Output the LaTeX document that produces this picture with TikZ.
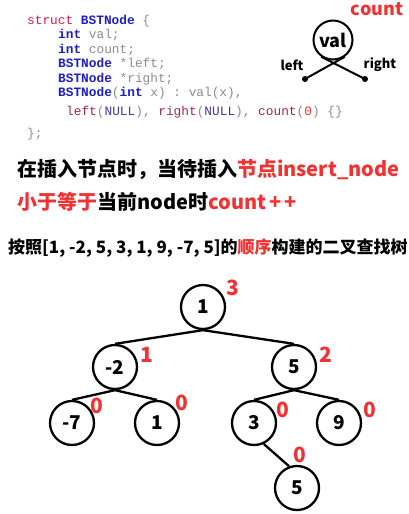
\documentclass[tikz,border=0pt]{standalone}
\usepackage{fontspec}
\setmonofont{Liberation Mono}
\newfontfamily\cjk{Noto Sans CJK SC}
\definecolor{kwstruct}{RGB}{220,20,80}
\definecolor{kwblue}{RGB}{30,30,200}
\definecolor{cgray}{RGB}{140,140,140}
\definecolor{cdark}{RGB}{160,40,70}
\definecolor{cnull}{RGB}{60,60,150}
\definecolor{hl}{RGB}{240,50,50}
\begin{document}
\begin{tikzpicture}[x=1pt,y=-1pt,
  codeline/.style={anchor=base west,inner sep=0pt,font=\ttfamily\fontsize{12.8}{14}\selectfont},
  tnode/.style={circle,draw,line width=2.3pt,minimum size=44pt,inner sep=0pt,font=\cjk\bfseries\fontsize{19}{20}\selectfont},
  cnt/.style={text=hl,inner sep=0pt,font=\cjk\bfseries\fontsize{21}{22}\selectfont},
  tedge/.style={line width=2.3pt},
  cjkline/.style={anchor=west,inner sep=0pt,font=\cjk\bfseries\fontsize{20}{22}\selectfont}]
\useasboundingbox (0,0) rectangle (408,514);
\newcommand{\kw}[1]{\textcolor{kwblue}{\bfseries #1}}
% code
\node[codeline] (c1) at (27,24) {\textcolor{kwstruct}{struct} \kw{BSTNode} \textcolor{cgray}{\{}};
\node[codeline] (c2) at (58,38.5) {\kw{int} \textcolor{cgray}{val;}};
\node[codeline] (c3) at (58,53) {\kw{int} \textcolor{cgray}{count;}};
\node[codeline] (c4) at (58,67.5) {\kw{BSTNode} \textcolor{cgray}{*left;}};
\node[codeline] (c5) at (58,82) {\kw{BSTNode} \textcolor{cgray}{*right;}};
\node[codeline] (c6) at (58,96.5) {\kw{BSTNode}\textcolor{cgray}{(}\kw{int} \textcolor{cgray}{x) : val(x),}};
\node[codeline] (c7) at (66,115) {\textcolor{cdark}{left}\textcolor{cgray}{(}\textcolor{cnull}{NULL}\textcolor{cgray}{),} \textcolor{cdark}{right}\textcolor{cgray}{(}\textcolor{cnull}{NULL}\textcolor{cgray}{),} \textcolor{cdark}{count}\textcolor{cgray}{(}\textcolor{hl}{0}\textcolor{cgray}{) \{\}}};
\node[codeline] (c8) at (27,137) {\textcolor{cgray}{\};}};
% legend node
\node[circle,draw,line width=2pt,minimum size=39pt,inner sep=0pt,font=\cjk\bfseries\fontsize{18}{20}\selectfont] (val) at (333,40) {val};
\node[text=hl,font=\cjk\bfseries\fontsize{18}{20}\selectfont,inner sep=0pt] (cl) at (377,9) {count};
\coordinate (ld) at (305,79);
\coordinate (rd) at (365,79);
\draw[line width=2pt] (ld) -- (val.-55);
\draw[line width=2pt] (rd) -- (val.-125);
\fill (ld) circle (3pt);
\fill (rd) circle (3pt);
\node[font=\cjk\bfseries\fontsize{13}{14}\selectfont,inner sep=0pt] (lt) at (292,65) {left};
\node[font=\cjk\bfseries\fontsize{13}{14}\selectfont,inner sep=0pt] (rt) at (380,65) {right};
% Chinese text
\node[cjkline] (t1) at (17,170) {在插入节点时，当待插入\textcolor{hl}{节点insert\_node}};
\node[cjkline] (t2) at (17,202) {\textcolor{hl}{小于等于}当前node时\textcolor{hl}{count\,+\,+}};
\node[cjkline,font=\cjk\bfseries\fontsize{17}{19}\selectfont] (t3) at (8,248) {按照[1, -2, 5, 3, 1, 9, -7, 5]的\textcolor{hl}{顺序}构建的二叉查找树};
% tree
\node[tnode] (r) at (203,307) {1};
\node[tnode] (a) at (115,367) {-2};
\node[tnode] (b) at (294,367) {5};
\node[tnode] (aa) at (72,423) {-7};
\node[tnode] (ab) at (157,423) {1};
\node[tnode] (ba) at (254,423) {3};
\node[tnode] (bb) at (339,423) {9};
\node[tnode] (bab) at (297,488) {5};
\draw[tedge] (r.south) -- (a.north);
\draw[tedge] (r.south) -- (b.north);
\draw[tedge] (a.south) -- (aa.north);
\draw[tedge] (a.south) -- (ab.north);
\draw[tedge] (b.south) -- (ba.north);
\draw[tedge] (b.south) -- (bb.north);
\draw[tedge] (ba.-65) -- (bab.110);
% counts
\node[cnt] (kr) at (233,288) {3};
\node[cnt] (ka) at (147,355) {1};
\node[cnt] (kb) at (326,355) {2};
\node[cnt] (kaa) at (97,406) {0};
\node[cnt] (kab) at (182,403) {0};
\node[cnt] (kba) at (283,410) {0};
\node[cnt] (kbb) at (370,410) {0};
\node[cnt] (kbab) at (300,455) {0};
\end{tikzpicture}
\end{document}
